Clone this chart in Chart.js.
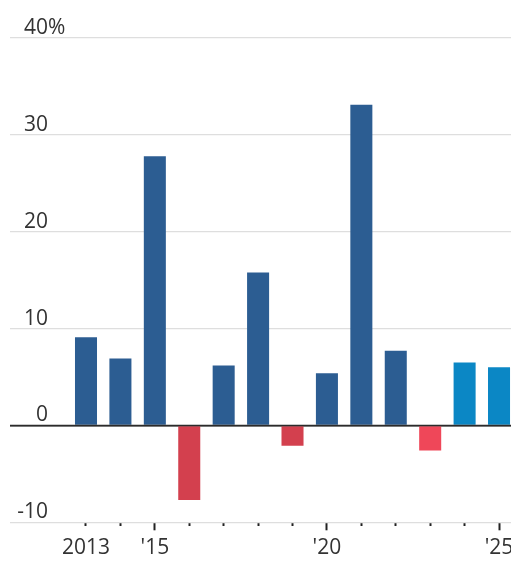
<!DOCTYPE html>
<html>
<head>
<meta charset="utf-8">
<script src="https://cdn.jsdelivr.net/npm/chart.js@4"></script>
<style>
  html, body { margin: 0; padding: 0; background: #fff; overflow: hidden; width: 511px; height: 573px; }
  canvas { display: block; }
</style>
</head>
<body>
<canvas id="chart" width="530" height="573" style="width:530px;height:573px"></canvas>
<script>
// Annual change, percent
const years   = [2013, 2014, 2015, 2016, 2017, 2018, 2019, 2020, 2021, 2022, 2023, 2024, 2025];
const changes = [9.1, 6.9, 27.8, -7.7, 6.2, 15.8, -2.1, 5.4, 33.1, 7.7, -2.6, 6.5, 6.0];

// Axis labels
const yearLabels = ['2013', '', "'15", '', '', '', '', "'20", '', '', '', '', "'25"];
const majorYears = [2015, 2020, 2025];
const yTicks     = [-10, 0, 10, 20, 30, 40];

// Styling
const DARK_BLUE  = '#2c5d92';
const RED        = '#d3404e';
const LIGHT_RED  = '#ef4759';
const LIGHT_BLUE = '#0b87c5';
const barColors = [DARK_BLUE, DARK_BLUE, DARK_BLUE, RED, DARK_BLUE, DARK_BLUE, RED,
                   DARK_BLUE, DARK_BLUE, DARK_BLUE, LIGHT_RED, LIGHT_BLUE, LIGHT_BLUE];
const FONT_FAMILY = '"Open Sans", "DejaVu Sans", sans-serif';
const FONT_SIZE = 21;
const TEXT_COLOR = '#333333';

const tickValue = ctx => (ctx && ctx.tick ? ctx.tick.value : null);

// Value labels on the left, right-aligned, sitting just above each gridline,
// plus the zero baseline drawn over the bars.
const axisText = {
  id: 'axisText',
  afterDatasetsDraw(chart) {
    const { ctx, chartArea, scales: { y } } = chart;
    const zero = y.getPixelForValue(0);
    ctx.save();
    ctx.strokeStyle = '#2b2b2b';
    ctx.lineWidth = 1.6;
    ctx.beginPath();
    ctx.moveTo(chartArea.left, zero);
    ctx.lineTo(chartArea.right, zero);
    ctx.stroke();

    ctx.font = `${FONT_SIZE}px ${FONT_FAMILY}`;
    ctx.fillStyle = TEXT_COLOR;
    ctx.textBaseline = 'alphabetic';
    const top = yTicks[yTicks.length - 1];
    yTicks.forEach(v => {
      const py = y.getPixelForValue(v) - 4;
      ctx.textAlign = 'right';
      ctx.fillText(String(v), 48, py);
      if (v === top) {
        ctx.textAlign = 'left';
        ctx.fillText('%', 48, py);
      }
    });
    ctx.restore();
  }
};

new Chart(document.getElementById('chart'), {
  type: 'bar',
  data: {
    datasets: [{
      data: years.map((yr, i) => ({ x: yr, y: changes[i] })),
      backgroundColor: barColors,
      borderWidth: 0,
      categoryPercentage: 0.8,
      barPercentage: 0.8
    }]
  },
  options: {
    responsive: false,
    animation: false,
    layout: { padding: { top: 38, left: 10, right: 0, bottom: 0 } },
    plugins: { legend: { display: false }, tooltip: { enabled: false } },
    scales: {
      x: {
        type: 'linear',
        offset: false,
        min: 2010.792,
        max: 2025.9,
        afterBuildTicks: s => { s.ticks = years.map(v => ({ value: v })); },
        afterFit: s => { s.height = 50.7; s.paddingLeft = 0; s.paddingRight = 0; },
        border: { display: false },
        grid: {
          display: true,
          offset: false,
          drawOnChartArea: false,
          drawTicks: true,
          tickLength: 8,
          tickWidth: 2,
          tickColor: '#222222',
          tickBorderDash: ctx => majorYears.includes(tickValue(ctx)) ? [] : [4, 40]
        },
        ticks: {
          autoSkip: false,
          maxRotation: 0,
          padding: 5,
          color: TEXT_COLOR,
          font: { family: FONT_FAMILY, size: FONT_SIZE },
          callback: v => { const i = years.indexOf(v); return i >= 0 ? yearLabels[i] : ''; }
        }
      },
      y: {
        min: -10,
        max: 40,
        afterBuildTicks: s => { s.ticks = yTicks.map(v => ({ value: v })); },
        afterFit: s => { s.width = 0; },
        border: { display: false },
        grid: {
          drawTicks: false,
          color: ctx => tickValue(ctx) === 0 ? '#2b2b2b' : '#dedede',
          lineWidth: ctx => tickValue(ctx) === 0 ? 1.6 : 1.3
        },
        ticks: { display: false }
      }
    }
  },
  plugins: [axisText]
});
</script>
</body>
</html>
